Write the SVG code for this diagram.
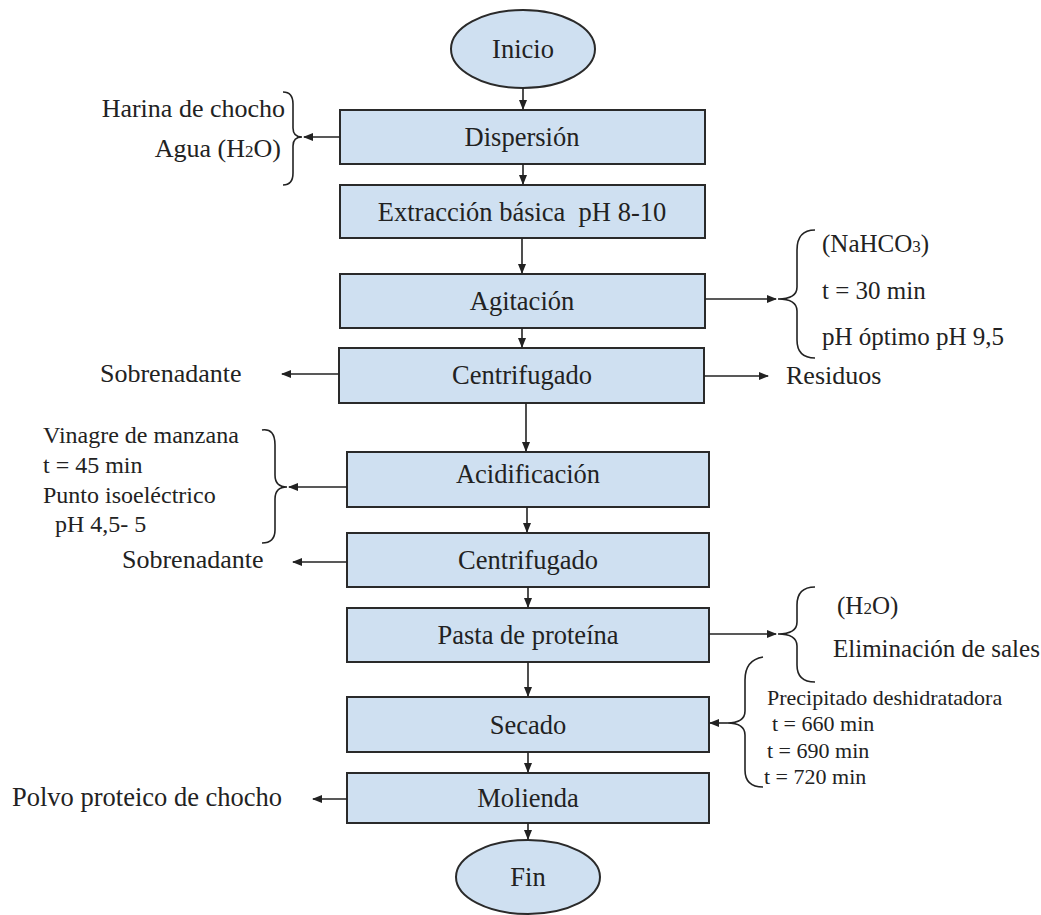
<svg xmlns="http://www.w3.org/2000/svg" width="1041" height="915" viewBox="0 0 1041 915">
<defs>
<marker id="ah" markerUnits="userSpaceOnUse" markerWidth="10" markerHeight="8" refX="9" refY="4" orient="auto">
<path d="M0,0 L10,4 L0,8 Z" fill="#222"/>
</marker>
<style>
.box{fill:#cfe0f1;stroke:#2a2a2a;stroke-width:2}
.t{font-family:"Liberation Serif","Times New Roman",serif;fill:#222}
.lb{font-size:26.5px;text-anchor:middle}
.sd{font-size:25px}
.sm{font-size:22px}
.ln{fill:none;stroke:#222;stroke-width:1.6}
.br{fill:none;stroke:#222;stroke-width:1.6}
</style>
</defs>
<rect width="1041" height="915" fill="#ffffff"/>

<g id="inicio"><ellipse cx="523" cy="49" rx="72" ry="39" class="box"/><text class="t lb" x="523" y="58">Inicio</text></g>
<g id="dispersion"><rect x="340" y="110" width="365" height="54" class="box"/><text class="t lb" x="522" y="146">Dispersión</text></g>
<g id="extraccion"><rect x="340" y="185" width="365" height="53" class="box"/><text class="t lb" x="522" y="221" xml:space="preserve">Extracción básica  pH 8-10</text></g>
<g id="agitacion"><rect x="340" y="274" width="365" height="54" class="box"/><text class="t lb" x="522" y="310">Agitación</text></g>
<g id="centrifugado1"><rect x="339" y="348" width="365" height="55" class="box"/><text class="t lb" x="522" y="384">Centrifugado</text></g>
<g id="acidificacion"><rect x="347" y="452" width="362" height="55" class="box"/><text class="t lb" x="528" y="483">Acidificación</text></g>
<g id="centrifugado2"><rect x="347" y="533" width="362" height="54" class="box"/><text class="t lb" x="528" y="569">Centrifugado</text></g>
<g id="pasta"><rect x="347" y="608" width="362" height="54" class="box"/><text class="t lb" x="528" y="644">Pasta de proteína</text></g>
<g id="secado"><rect x="347" y="697" width="362" height="55" class="box"/><text class="t lb" x="528" y="734">Secado</text></g>
<g id="molienda"><rect x="347" y="773" width="362" height="50" class="box"/><text class="t lb" x="528" y="807">Molienda</text></g>
<g id="fin"><ellipse cx="528" cy="877" rx="72" ry="37" class="box"/><text class="t lb" x="528" y="886">Fin</text></g>

<g id="side-labels">
<text class="t" style="font-size:26px" x="285" y="117" text-anchor="end">Harina de chocho</text>
<text class="t" style="font-size:26px" x="281" y="157" text-anchor="end">Agua (H<tspan font-size="17">2</tspan>O)</text>
<text class="t sd" x="822" y="252">(NaHCO<tspan font-size="17">3</tspan>)</text>
<text class="t sd" x="822" y="299">t = 30 min</text>
<text class="t sd" x="822" y="345">pH óptimo pH 9,5</text>
<text class="t" style="font-size:26px" x="786" y="384">Residuos</text>
<text class="t" style="font-size:26px" x="100" y="382">Sobrenadante</text>
<text class="t" style="font-size:24px" x="43" y="443">Vinagre de manzana</text>
<text class="t" style="font-size:24px" x="43" y="473">t = 45 min</text>
<text class="t" style="font-size:24px" x="43" y="503">Punto isoeléctrico</text>
<text class="t" style="font-size:24px" x="55" y="532">pH 4,5- 5</text>
<text class="t" style="font-size:26px" x="122" y="568">Sobrenadante</text>
<text class="t sd" x="837" y="614">(H<tspan font-size="17">2</tspan>O)</text>
<text class="t sd" x="833" y="657">Eliminación de sales</text>
<text class="t sm" x="767" y="705">Precipitado deshidratadora</text>
<text class="t sm" x="772" y="731">t = 660 min</text>
<text class="t sm" x="767" y="758">t = 690 min</text>
<text class="t sm" x="764" y="784">t = 720 min</text>
<text class="t" style="font-size:26.5px" x="12" y="806">Polvo proteico de chocho</text>
</g>

<g id="connectors">
<line class="ln" x1="523" y1="88" x2="523" y2="109" marker-end="url(#ah)"/>
<line class="ln" x1="523" y1="164" x2="523" y2="184" marker-end="url(#ah)"/>
<line class="ln" x1="522" y1="238" x2="522" y2="273" marker-end="url(#ah)"/>
<line class="ln" x1="522" y1="328" x2="522" y2="347" marker-end="url(#ah)"/>
<line class="ln" x1="526" y1="403" x2="526" y2="451" marker-end="url(#ah)"/>
<line class="ln" x1="527" y1="507" x2="527" y2="532" marker-end="url(#ah)"/>
<line class="ln" x1="528" y1="587" x2="528" y2="607" marker-end="url(#ah)"/>
<line class="ln" x1="528" y1="662" x2="528" y2="696" marker-end="url(#ah)"/>
<line class="ln" x1="528" y1="752" x2="528" y2="772" marker-end="url(#ah)"/>
<line class="ln" x1="528" y1="823" x2="528" y2="839" marker-end="url(#ah)"/>

<line class="ln" x1="340" y1="137" x2="304" y2="137" marker-end="url(#ah)"/>
<path class="br" d="M283,92 Q293,92 293,104 L293,128 Q293,137 302,137 Q293,137 293,146 L293,173 Q293,185 283,185"/>

<line class="ln" x1="705" y1="299" x2="776" y2="299" marker-end="url(#ah)"/>
<path class="br" d="M815,230 Q797,230 797,250 L797,287 Q797,299 778,299 Q797,299 797,311 L797,340 Q797,358 815,358"/>

<line class="ln" x1="704" y1="376" x2="768" y2="376" marker-end="url(#ah)"/>
<line class="ln" x1="339" y1="374" x2="282" y2="374" marker-end="url(#ah)"/>

<line class="ln" x1="347" y1="487" x2="289" y2="487" marker-end="url(#ah)"/>
<path class="br" d="M262,430 Q275,428 275,445 L275,475 Q275,487 287,487 Q275,487 275,499 L275,530 Q275,543 262,543"/>

<line class="ln" x1="347" y1="562" x2="293" y2="562" marker-end="url(#ah)"/>

<line class="ln" x1="709" y1="634" x2="776" y2="634" marker-end="url(#ah)"/>
<path class="br" d="M815,587 Q797,587 797,605 L797,622 Q797,634 778,634 Q797,634 797,646 L797,665 Q797,682 815,682"/>

<line class="ln" x1="727" y1="723" x2="710" y2="723" marker-end="url(#ah)"/>
<path class="br" d="M763,657 Q745,660 745,680 L745,711 Q745,723 727,723 Q745,723 745,735 L745,770 Q745,787 763,787"/>

<line class="ln" x1="347" y1="799" x2="313" y2="799" marker-end="url(#ah)"/>
</g>
</svg>
